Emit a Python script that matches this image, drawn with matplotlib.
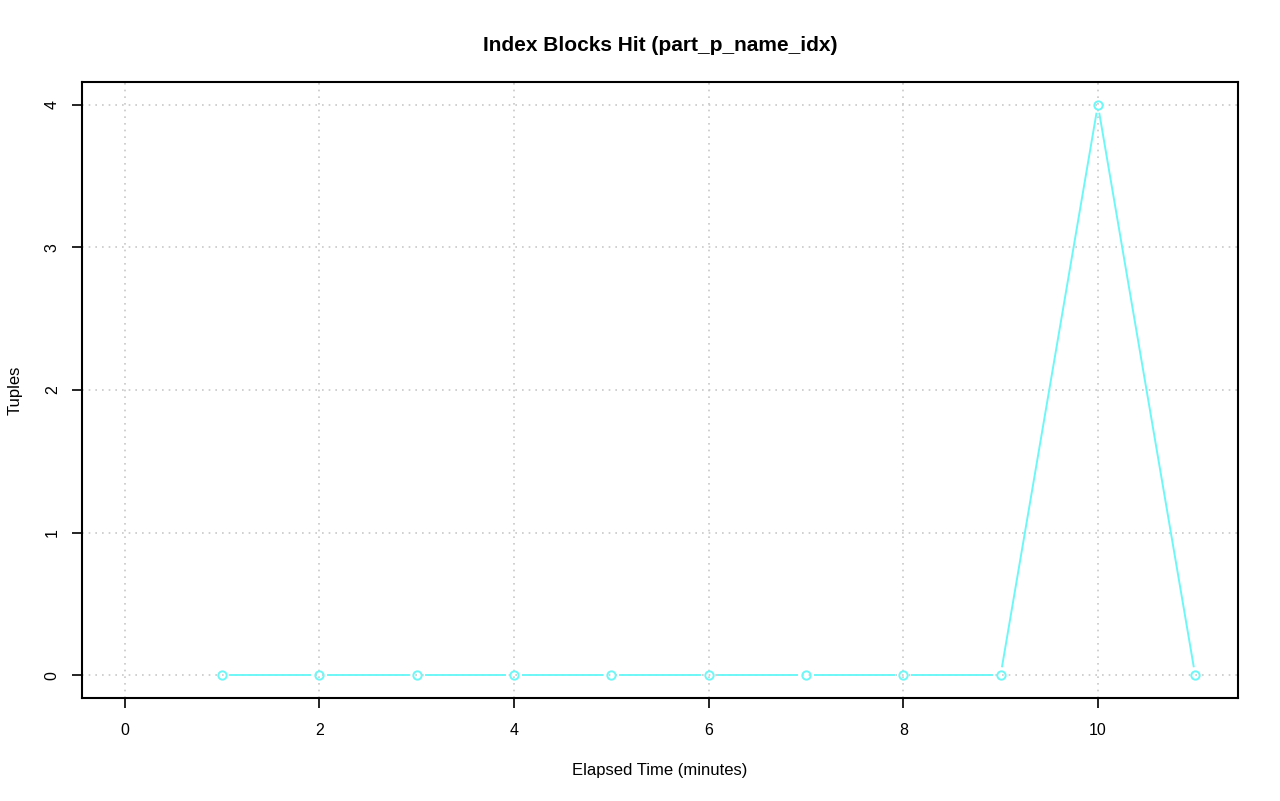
import matplotlib
matplotlib.use("Agg")
import matplotlib.pyplot as plt
import numpy as np

plt.rcParams['font.family'] = ['Liberation Sans', 'DejaVu Sans']

minutes = [1, 2, 3, 4, 5, 6, 7, 8, 9, 10, 11]
tuples = [0, 0, 0, 0, 0, 0, 0, 0, 0, 4, 0]
xticks = [0, 2, 4, 6, 8, 10]
yticks = [0, 1, 2, 3, 4]
color = '#6ef7f7'

fig = plt.figure(figsize=(12.8, 8.01), dpi=100)
ax = fig.add_axes([82 / 1280, 1 - 698 / 801, (1238 - 82) / 1280, (698 - 82) / 801])

ax.set_xlim(0 - 0.04 * 11, 11 + 0.04 * 11)
ax.set_ylim(0 - 0.04 * 4, 4 + 0.04 * 4)
ax.set_xticks(xticks)
ax.set_yticks(yticks)
ax.grid(True, color='#c8c8c8', linestyle=(0, (1, 3)), linewidth=1.2)
ax.set_axisbelow(True)

# type="b": points with gaps in the connecting lines
fig.canvas.draw()
pts = ax.transData.transform(np.column_stack([minutes, tuples]))
gap = 9.0
inv = ax.transData.inverted()
for p0, p1 in zip(pts[:-1], pts[1:]):
    d = p1 - p0
    L = np.hypot(*d)
    if L <= 2 * gap:
        continue
    u = d / L
    a = inv.transform(p0 + u * gap)
    b = inv.transform(p1 - u * gap)
    ax.plot([a[0], b[0]], [a[1], b[1]], color=color, lw=1.4)

ax.plot(minutes, tuples, linestyle='none', marker='o', markersize=6,
        markerfacecolor='none', markeredgecolor=color, markeredgewidth=1.4)

for s in ax.spines.values():
    s.set_linewidth(1.5)
ax.tick_params(direction='out', length=7, width=1.2, labelsize=11.5, pad=11)
ax.tick_params(axis='y', pad=9)
plt.setp(ax.get_yticklabels(), rotation=90, va='center')

ax.set_title('Index Blocks Hit (part_p_name_idx)', fontsize=15, fontweight='bold', pad=22)
ax.set_xlabel('Elapsed Time (minutes)', fontsize=12, labelpad=18)
ax.set_ylabel('Tuples', fontsize=12, labelpad=16)

fig.savefig('out.png', dpi=100)
